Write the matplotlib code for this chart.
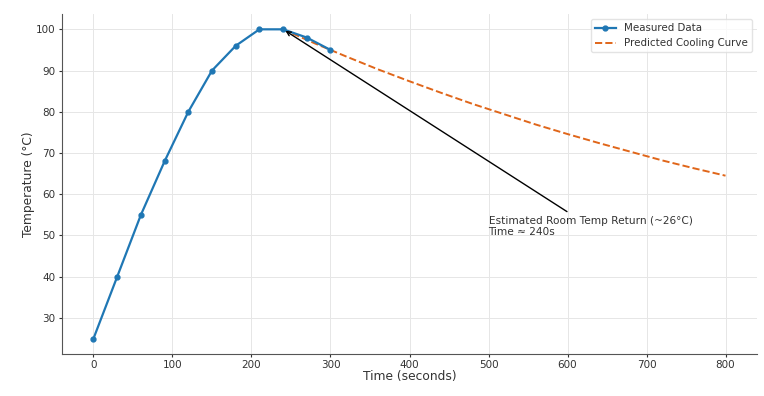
import numpy as np
import matplotlib
matplotlib.use("Agg")
import matplotlib.pyplot as plt

# measured heating / cooling data
time_measured = [0, 30, 60, 90, 120, 150, 180, 210, 240, 270, 300]
temp_measured = [25, 40, 55, 68, 80, 90, 96, 100, 100, 98, 95]

# predicted cooling curve
time_pred = [240, 280, 320, 360, 400, 440, 480, 520, 560, 600, 640, 680, 720, 760, 800]
temp_pred = [100, 96.6, 93.4, 90.3, 87.4, 84.6, 81.9, 79.4, 76.9, 74.6, 72.4, 70.3, 68.2, 66.3, 64.5]

note_text = "Estimated Room Temp Return (~26°C)\nTime ≈ 240s"
note_xy = (240, 100)
note_pos = (500, 50)

text_color = "#333333"
plt.rcParams["font.family"] = ["DejaVu Sans"]

fig = plt.figure(figsize=(7.64, 3.96), dpi=100)
ax = fig.add_axes([0.081, 0.106, 0.91, 0.859])

ax.plot(time_measured, temp_measured, marker="o", markersize=3.5, color="#1f77b4",
        linewidth=1.6, label="Measured Data", zorder=3)
ax.plot(time_pred, temp_pred, linestyle="--", color="#e0661a", linewidth=1.4,
        label="Predicted Cooling Curve", zorder=2)

ax.annotate(note_text, xy=note_xy, xytext=note_pos,
            arrowprops=dict(arrowstyle="->", color="black", lw=1.0),
            fontsize=7.6, color=text_color)

ax.set_xlabel("Time (seconds)", fontsize=8.8, color=text_color, labelpad=0)
ax.set_ylabel("Temperature (°C)", fontsize=8.8, color=text_color, labelpad=1)
ax.tick_params(labelsize=7.5, colors=text_color, length=2.5, pad=2, width=0.8)

ax.grid(True, color="#e6e6e6", linewidth=0.7)
ax.set_axisbelow(True)
for side in ("top", "right"):
    ax.spines[side].set_visible(False)
for side in ("left", "bottom"):
    ax.spines[side].set_color("#555555")

leg = ax.legend(loc="upper right", fontsize=7.4, frameon=True)
leg.get_frame().set_edgecolor("#dddddd")
for t in leg.get_texts():
    t.set_color(text_color)

fig.savefig("out.png", dpi=100)
